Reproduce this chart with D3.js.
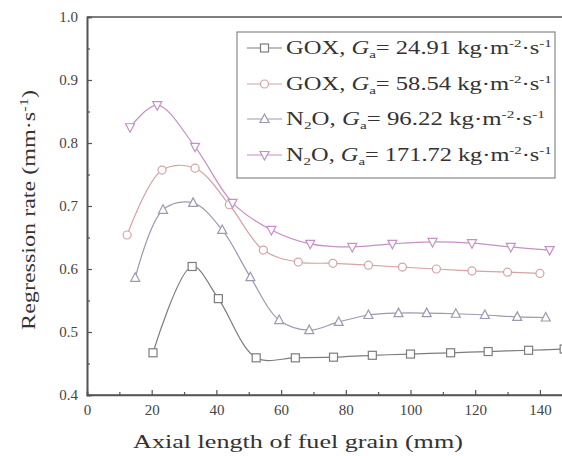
<!DOCTYPE html>
<html><head><meta charset="utf-8">
<script src="https://cdn.jsdelivr.net/npm/d3@7"></script>
<style>body{margin:0;background:#fff}svg{display:block}</style>
</head><body>
<script>
const sqX = [20.4, 32.5, 40.6, 52.3, 64.4, 76.2, 88.2, 100, 112.4, 124, 136.5, 147.5];
const sqY = [0.467, 0.604, 0.553, 0.459, 0.459, 0.46, 0.463, 0.465, 0.467, 0.469, 0.471, 0.473];
const ciX = [12.4, 23.2, 33.4, 44, 54.5, 65.3, 76, 87, 97.5, 108, 119, 130, 140];
const ciY = [0.654, 0.757, 0.76, 0.702, 0.63, 0.611, 0.609, 0.606, 0.603, 0.6, 0.597, 0.595, 0.593];
const trX = [14.9, 23.5, 32.8, 41.8, 50.5, 59.4, 68.7, 77.8, 87, 96.3, 105, 114, 123, 133, 141.8];
const trY = [0.586, 0.694, 0.705, 0.662, 0.587, 0.519, 0.503, 0.516, 0.527, 0.53, 0.53, 0.529, 0.527, 0.524, 0.523];
const puX = [13.3, 21.7, 33.4, 45, 57, 69, 82, 94.4, 106.8, 119, 131, 143];
const puY = [0.825, 0.86, 0.794, 0.705, 0.662, 0.64, 0.635, 0.64, 0.643, 0.641, 0.635, 0.63];
const xTicks = [0, 20, 40, 60, 80, 100, 120, 140];
const yTicks = [0.4, 0.5, 0.6, 0.7, 0.8, 0.9, 1.0];
const seriesNames = [
  ["GOX, ", "24.91"],
  ["GOX, ", "58.54"],
  ["N2O, ", "96.22"],
  ["N2O, ", "171.72"]
];
const seriesColors = ["#7d7d7d", "#d6a3a3", "#9a9ab0", "#c690c6"];
const seriesShapes = ["square", "circle", "triangle", "triangleDown"];

const W = 562, H = 456;
const svg = d3.select("body").append("svg").attr("width", W).attr("height", H)
  .style("font-family", "'Liberation Serif', 'Times New Roman', serif");

const x = d3.scaleLinear().domain([0, 150]).range([87, 87 + 150 * 3.235]);
const y = d3.scaleLinear().domain([0.4, 1.0]).range([395, 17]);

// stretch text horizontally (along its baseline) to a target width
function stretch(sel, base, target) {
  const w = sel.node().getComputedTextLength();
  sel.attr("transform", base + ` scale(${target / w},1)`);
}

const axisColor = "#555";
svg.append("line").attr("x1", x(0)).attr("x2", W).attr("y1", y(1.0)).attr("y2", y(1.0))
  .attr("stroke", axisColor).attr("stroke-width", 1.6);

const xAxis = svg.append("g").attr("transform", `translate(0,${y(0.4)})`)
  .call(d3.axisBottom(x).tickValues(xTicks).tickSize(-5).tickPadding(9).tickFormat(d3.format("d")));
const xMinor = svg.append("g").attr("transform", `translate(0,${y(0.4)})`)
  .call(d3.axisBottom(x).tickValues(d3.range(10, 150, 20)).tickSize(-3).tickFormat(""));
const yAxis = svg.append("g").attr("transform", `translate(${x(0)},0)`)
  .call(d3.axisLeft(y).tickValues(yTicks).tickSize(-5).tickPadding(9).tickFormat(d3.format(".1f")));
const yMinor = svg.append("g").attr("transform", `translate(${x(0)},0)`)
  .call(d3.axisLeft(y).tickValues(d3.range(0.45, 1.0, 0.1)).tickSize(-3).tickFormat(""));
[xAxis, xMinor, yAxis, yMinor].forEach(g => {
  g.select(".domain").attr("stroke", axisColor).attr("stroke-width", 1.6);
  g.selectAll(".tick line").attr("stroke", axisColor).attr("stroke-width", 1.2);
  g.selectAll(".tick text").attr("fill", "#444").style("font-size", "15px")
    .style("font-family", "'Liberation Serif', serif");
});
xAxis.select(".domain").attr("d", `M${x(0)},0H${W}`);

// axis titles
const xt = svg.append("text").attr("text-anchor", "middle")
  .attr("fill", "#333").style("font-size", "19px").text("Axial length of fuel grain (mm)");
stretch(xt, "translate(298,448)", 330);
const yt = svg.append("text").attr("text-anchor", "middle").attr("fill", "#333").style("font-size", "19px");
yt.append("tspan").text("Regression rate (mm·s");
yt.append("tspan").attr("dy", -7).style("font-size", "13px").text("-1");
yt.append("tspan").attr("dy", 7).text(")");
stretch(yt, "translate(35,210) rotate(-90)", 240);

function drawMarker(g, shape, cx, cy, color) {
  if (shape === "square") {
    g.append("rect").attr("x", cx - 4).attr("y", cy - 4).attr("width", 8).attr("height", 8)
      .attr("fill", "#fff").attr("stroke", color).attr("stroke-width", 1.2);
  } else if (shape === "circle") {
    g.append("circle").attr("cx", cx).attr("cy", cy).attr("r", 4)
      .attr("fill", "#fff").attr("stroke", color).attr("stroke-width", 1.2);
  } else if (shape === "triangle") {
    g.append("path").attr("d", `M${cx},${cy - 5}L${cx + 4.5},${cy + 3.5}L${cx - 4.5},${cy + 3.5}Z`)
      .attr("fill", "#fff").attr("stroke", color).attr("stroke-width", 1.2);
  } else {
    g.append("path").attr("d", `M${cx},${cy + 5}L${cx + 4.5},${cy - 3.5}L${cx - 4.5},${cy - 3.5}Z`)
      .attr("fill", "#fff").attr("stroke", color).attr("stroke-width", 1.2);
  }
}

const allX = [sqX, ciX, trX, puX];
const allY = [sqY, ciY, trY, puY];
const line = d3.line().x(d => x(d[0])).y(d => y(d[1])).curve(d3.curveCatmullRom.alpha(0.5));
allX.forEach((xs, i) => {
  const pts = xs.map((v, j) => [v, allY[i][j]]);
  const g = svg.append("g");
  g.append("path").attr("d", line(pts)).attr("fill", "none")
    .attr("stroke", seriesColors[i]).attr("stroke-width", 1.2);
  pts.forEach(p => drawMarker(g, seriesShapes[i], x(p[0]), y(p[1]), seriesColors[i]));
});

// legend
const lg = svg.append("g");
lg.append("rect").attr("x", 237).attr("y", 32).attr("width", 318).attr("height", 146)
  .attr("fill", "#fff").attr("stroke", "#888").attr("stroke-width", 1.2);
const rowY = [48, 84, 119, 155];
const rowW = [266, 266, 259, 266];
seriesNames.forEach((nm, i) => {
  const ry = rowY[i];
  lg.append("line").attr("x1", 247).attr("x2", 282).attr("y1", ry).attr("y2", ry)
    .attr("stroke", seriesColors[i]).attr("stroke-width", 1.2);
  drawMarker(lg, seriesShapes[i], 264.5, ry, seriesColors[i]);
  const t = lg.append("text").attr("fill", "#333").style("font-size", "18px");
  if (nm[0].startsWith("N2O")) {
    t.append("tspan").text("N");
    t.append("tspan").attr("dy", 4).style("font-size", "11px").text("2");
    t.append("tspan").attr("dy", -4).text("O, ");
  } else {
    t.append("tspan").text(nm[0]);
  }
  t.append("tspan").style("font-style", "italic").text("G");
  t.append("tspan").attr("dy", 4).style("font-size", "11px").text("a");
  t.append("tspan").attr("dy", -4).text("= " + nm[1] + " kg·m");
  t.append("tspan").attr("dy", -7).style("font-size", "11px").text("-2");
  t.append("tspan").attr("dy", 7).text("·s");
  t.append("tspan").attr("dy", -7).style("font-size", "11px").text("-1");
  stretch(t, `translate(286,${ry + 6})`, rowW[i]);
});
</script>
</body></html>
